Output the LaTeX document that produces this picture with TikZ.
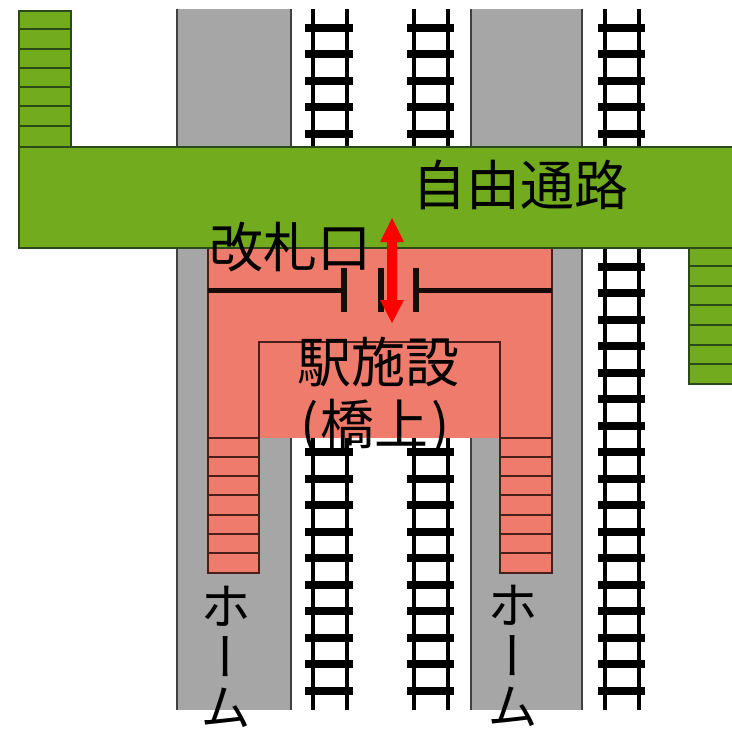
\documentclass[tikz,border=0pt]{standalone}
\usepackage{fontspec}
\setmainfont{Noto Sans CJK JP}
\newfontfamily\vertfont[RawFeature={+vert}]{Noto Sans CJK JP}
\definecolor{grn}{HTML}{72AC1E}
\definecolor{grnline}{HTML}{2A4A18}
\definecolor{plat}{HTML}{A6A6A6}
\definecolor{platline}{HTML}{404040}
\definecolor{sal}{HTML}{EE7B6C}
\definecolor{salline}{HTML}{4A1E1A}
\tikzset{
  x=1bp,y=-1bp,
  platform/.style={draw=platline,line width=1.2bp},
  redarea/.style={fill=sal,draw=none},
  redline/.style={draw=salline,line width=1.2bp},
  greenarea/.style={fill=grn,draw=grnline,line width=1.2bp},
  greenline/.style={draw=grnline,line width=1.2bp},
  railline/.style={draw=black,line width=4.6bp},
  tieline/.style={draw=black,line width=8bp},
  gateline/.style={draw=black!90!sal,line width=5bp},
  gatepost/.style={draw=black!90!sal,line width=6bp},
  label/.style={inner sep=0pt,font=\fontsize{54bp}{54bp}\selectfont,text=black},
  vlabel/.style={inner sep=0pt,align=center,font=\vertfont\fontsize{51bp}{50.5bp}\selectfont,text=black}
}
\begin{document}
\begin{tikzpicture}
\useasboundingbox (0,0) rectangle (732,735);
% platforms
\fill[plat] (177,9) rectangle (291,710);
\draw[platform] (177,9) -- (177,710) (291,9) -- (291,710);
\fill[plat] (471,9) rectangle (582,710);
\draw[platform] (471,9) -- (471,710) (582,9) -- (582,710);
% tracks
\foreach \a/\b/\l/\r in {313/347/305/353,414/448/407/454,605/639/598/645}{
  \draw[railline] (\a,9) -- (\a,710) (\b,9) -- (\b,710);
  \foreach \n in {0,...,25}{
    \draw[tieline] (\l,28+26.5*\n) -- (\r,28+26.5*\n);
  }
}
% station facility
\fill[redarea] (208,248) rectangle (552,438);
\fill[redarea] (208,438) rectangle (259,573);
\fill[redarea] (500,438) rectangle (552,573);
\draw[redline] (208,248) -- (208,573) -- (259,573) -- (259,342) -- (500,342) -- (500,573) -- (552,573) -- (552,248);
\foreach \y in {438,457,476,495,515,534,553}{
  \draw[redline] (208,\y) -- (260,\y);
  \draw[redline] (500,\y) -- (552,\y);
}
% gates
\draw[gateline] (208,290) -- (344,290) (416,290) -- (552,290);
\draw[gatepost] (344,268) -- (344,312);
\draw[gatepost] (381,268) -- (381,312);
\draw[gatepost] (416,268) -- (416,312);
% stairs (green)
\fill[grn] (19,11) rectangle (71,147);
\draw[greenarea] (19,147) -- (19,11) -- (71,11) -- (71,147);
\foreach \y in {29,49,68,87,106,126}{\draw[greenline] (19,\y) -- (71,\y);}
\draw[greenarea] (732,248) -- (689,248) -- (689,384) -- (732,384);
\foreach \y in {266,286,305,325,345,364}{\draw[greenline] (689,\y) -- (732,\y);}
% free passage
\draw[greenarea] (732,147) -- (19,147) -- (19,248) -- (732,248);
% arrow
\fill[red] (392,218) -- (404,242) -- (397,242) -- (397,300) -- (404,300) -- (392,323) -- (380,300) -- (387,300) -- (387,242) -- (380,242) -- cycle;
% labels
\node[label] (jiyu) at (520,185) {自由通路};
\node[label] (kaisatsu) at (290,247) {改札口};
\node[label] (eki) at (378,362) {駅施設};
\node[label] (kyo) at (375,427) {(\kern2bp 橋上\kern3bp)};
\node[vlabel] (home1) at (226,657) {ホ\\ー\\ム};
\node[vlabel] (home2) at (513,656) {ホ\\ー\\ム};
\end{tikzpicture}
\end{document}
